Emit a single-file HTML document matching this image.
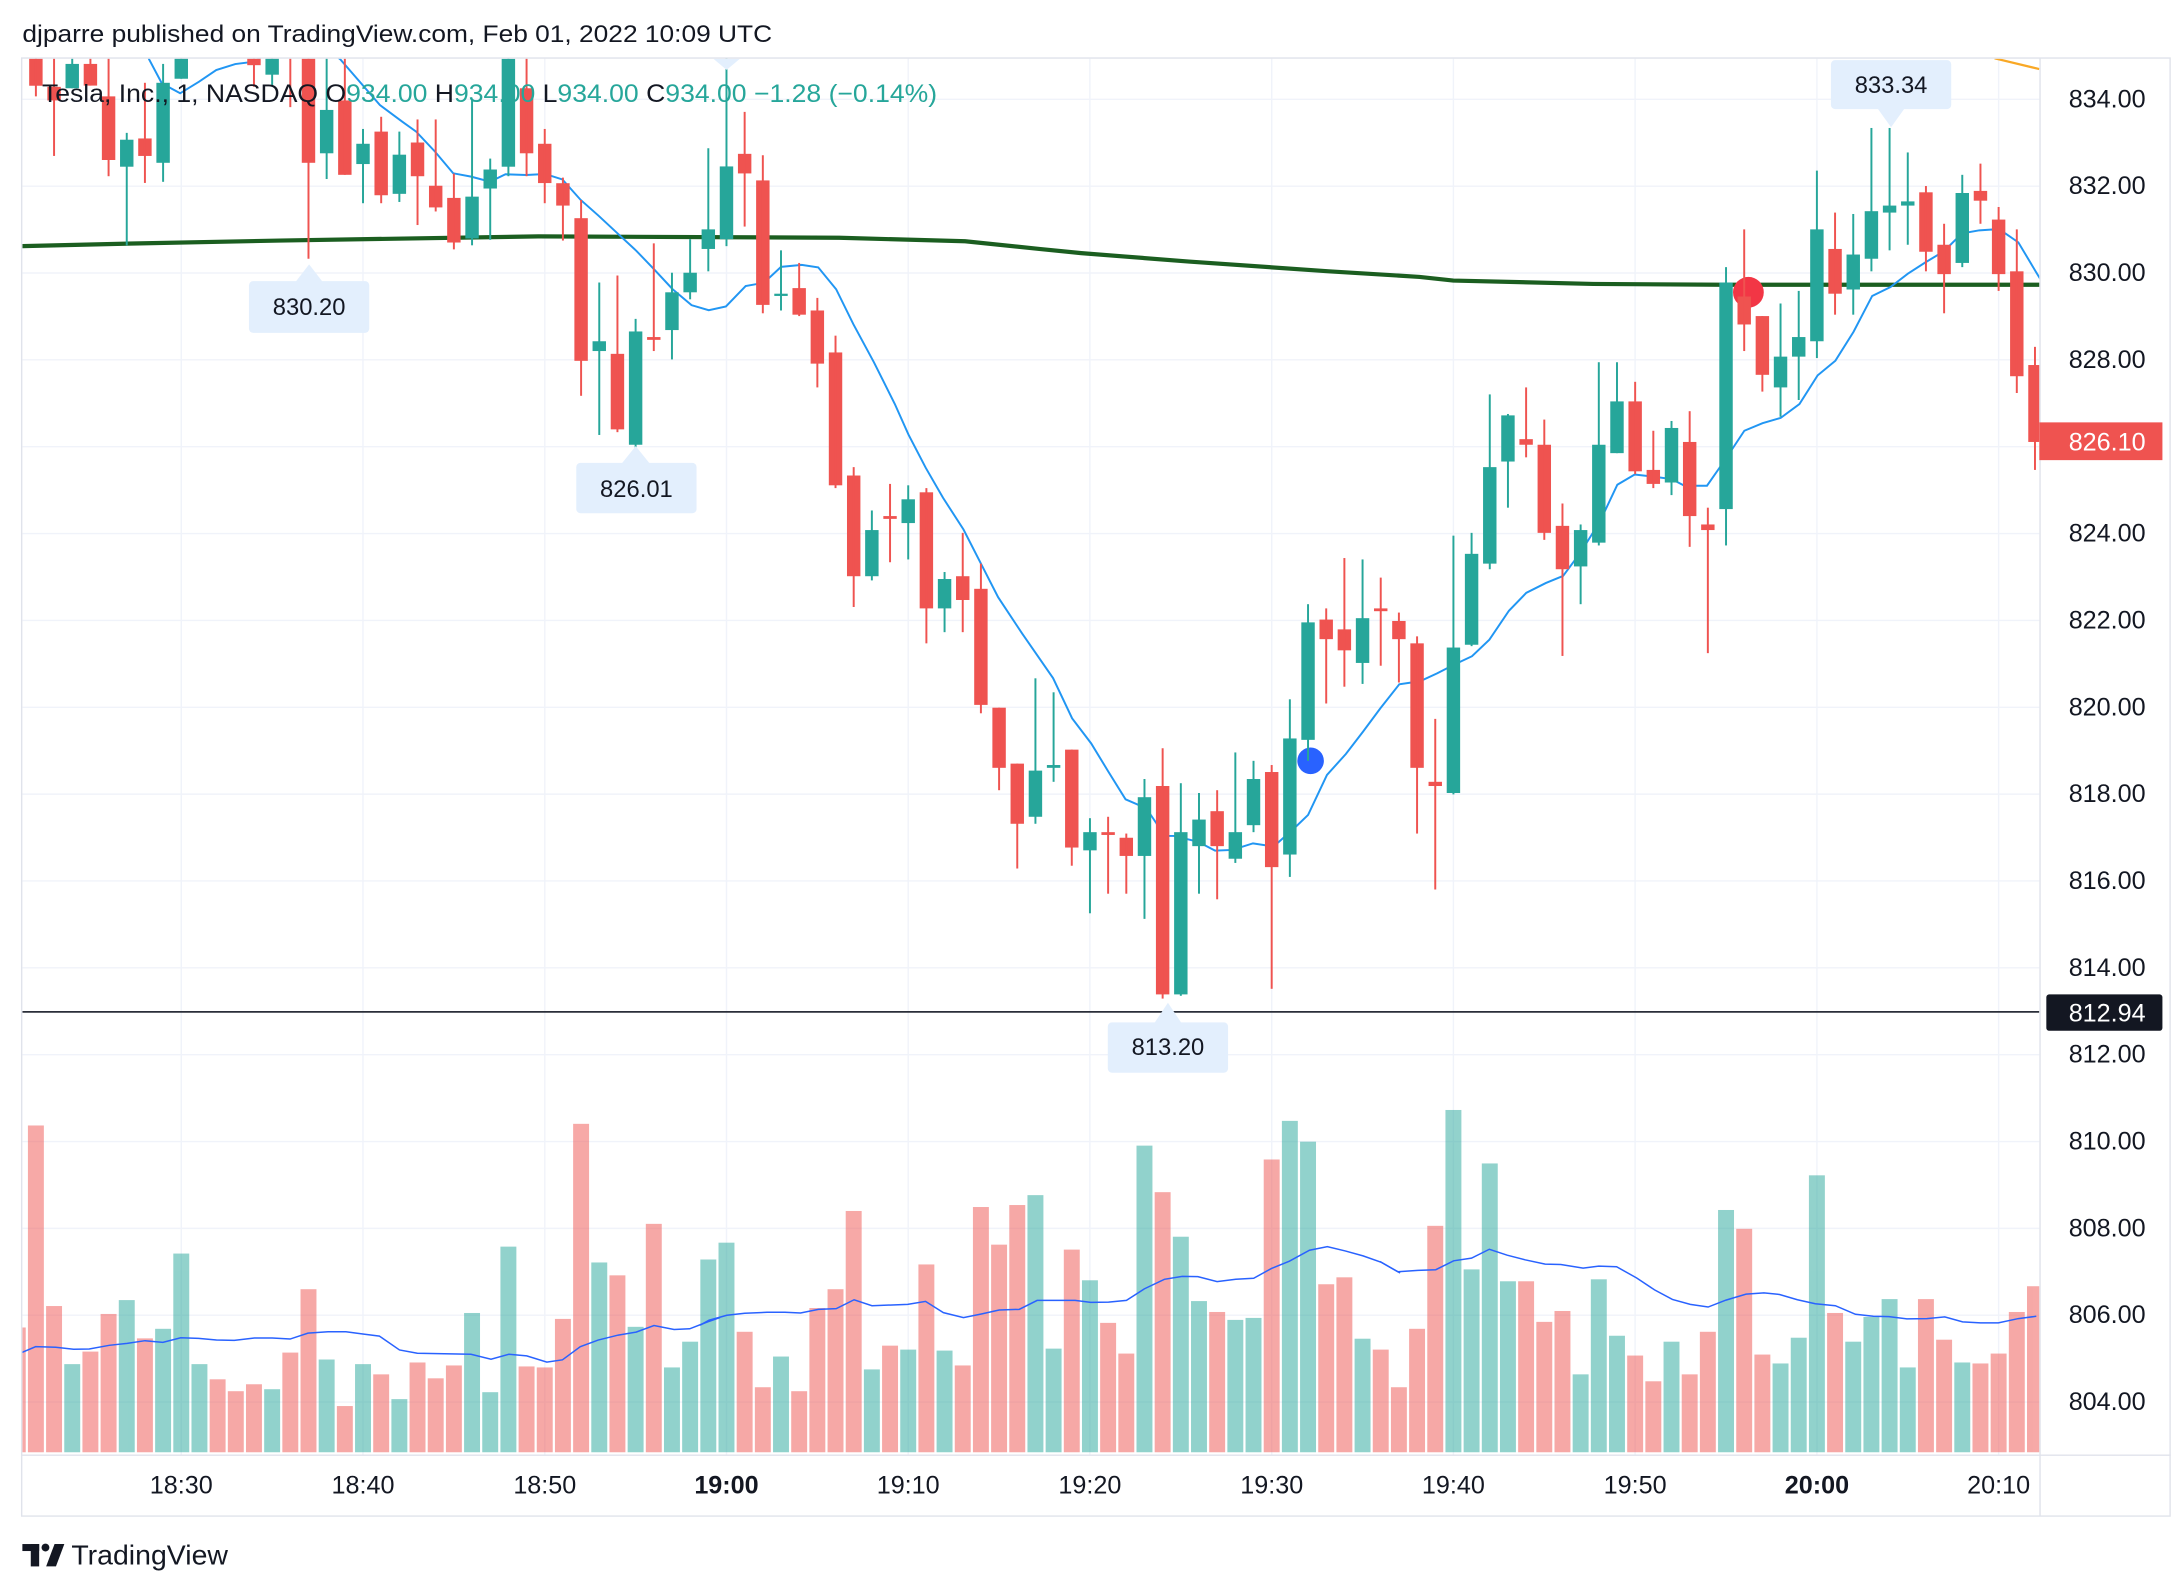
<!DOCTYPE html>
<html><head><meta charset="utf-8"><style>html,body{margin:0;padding:0;background:#fff}svg{display:block}text{font-family:"Liberation Sans",sans-serif}</style></head><body>
<svg width="2182" height="1586" viewBox="0 0 1560 1134" preserveAspectRatio="none" xmlns="http://www.w3.org/2000/svg">
<defs><clipPath id="pc"><rect x="16" y="42" width="1442" height="998"/></clipPath></defs>
<rect width="1560" height="1134" fill="#fff"/>
<text x="16" y="30" font-size="17.5" fill="#131722" textLength="536" lengthAdjust="spacingAndGlyphs">djparre published on TradingView.com, Feb 01, 2022 10:09 UTC</text>
<g stroke="#f0f3fa" stroke-width="1">
<line x1="16" x2="1458" y1="71" y2="71"/><line x1="16" x2="1458" y1="133.1" y2="133.1"/><line x1="16" x2="1458" y1="195.2" y2="195.2"/><line x1="16" x2="1458" y1="257.3" y2="257.3"/><line x1="16" x2="1458" y1="319.4" y2="319.4"/><line x1="16" x2="1458" y1="381.5" y2="381.5"/><line x1="16" x2="1458" y1="443.6" y2="443.6"/><line x1="16" x2="1458" y1="505.7" y2="505.7"/><line x1="16" x2="1458" y1="567.8" y2="567.8"/><line x1="16" x2="1458" y1="629.9" y2="629.9"/><line x1="16" x2="1458" y1="692" y2="692"/><line x1="16" x2="1458" y1="754.1" y2="754.1"/><line x1="16" x2="1458" y1="816.2" y2="816.2"/><line x1="16" x2="1458" y1="878.3" y2="878.3"/><line x1="16" x2="1458" y1="940.4" y2="940.4"/><line x1="16" x2="1458" y1="1002.5" y2="1002.5"/>
<line y1="42" y2="1040" x1="129.6" x2="129.6"/><line y1="42" y2="1040" x1="259.5" x2="259.5"/><line y1="42" y2="1040" x1="389.5" x2="389.5"/><line y1="42" y2="1040" x1="519.4" x2="519.4"/><line y1="42" y2="1040" x1="649.3" x2="649.3"/><line y1="42" y2="1040" x1="779.2" x2="779.2"/><line y1="42" y2="1040" x1="909.2" x2="909.2"/><line y1="42" y2="1040" x1="1039.1" x2="1039.1"/><line y1="42" y2="1040" x1="1169" x2="1169"/><line y1="42" y2="1040" x1="1299" x2="1299"/><line y1="42" y2="1040" x1="1428.9" x2="1428.9"/>
</g>
<g clip-path="url(#pc)">
<!-- volume -->
<g transform="translate(0,1002.5) scale(1,0.236) translate(0,-888)" opacity="0.5">
<g fill="#ef5350">
<rect x="7" y="662" width="11.4" height="378"/>
<rect x="19.96" y="50" width="11.4" height="990"/><rect x="32.95" y="597" width="11.4" height="443"/><rect x="58.94" y="735" width="11.4" height="305"/><rect x="71.93" y="621" width="11.4" height="419"/><rect x="97.91" y="695" width="11.4" height="345"/><rect x="149.89" y="819" width="11.4" height="221"/><rect x="162.88" y="855" width="11.4" height="185"/><rect x="175.87" y="834" width="11.4" height="206"/><rect x="201.86" y="738" width="11.4" height="302"/><rect x="214.85" y="546" width="11.4" height="494"/><rect x="240.84" y="900" width="11.4" height="140"/><rect x="266.82" y="804" width="11.4" height="236"/><rect x="292.81" y="768" width="11.4" height="272"/><rect x="305.8" y="816" width="11.4" height="224"/><rect x="318.8" y="777" width="11.4" height="263"/><rect x="370.77" y="780" width="11.4" height="260"/><rect x="383.76" y="783" width="11.4" height="257"/><rect x="396.75" y="636" width="11.4" height="404"/><rect x="409.75" y="45" width="11.4" height="995"/><rect x="435.73" y="504" width="11.4" height="536"/><rect x="461.72" y="348" width="11.4" height="692"/>
<rect x="526.68" y="675" width="11.4" height="365"/><rect x="539.68" y="843" width="11.4" height="197"/><rect x="565.66" y="855" width="11.4" height="185"/><rect x="578.66" y="603" width="11.4" height="437"/><rect x="591.65" y="546" width="11.4" height="494"/><rect x="604.64" y="309" width="11.4" height="731"/><rect x="630.63" y="717" width="11.4" height="323"/><rect x="656.61" y="471" width="11.4" height="569"/><rect x="682.6" y="777" width="11.4" height="263"/><rect x="695.59" y="297" width="11.4" height="743"/><rect x="708.59" y="411" width="11.4" height="629"/><rect x="721.58" y="291" width="11.4" height="749"/><rect x="760.56" y="426" width="11.4" height="614"/><rect x="786.54" y="648" width="11.4" height="392"/><rect x="799.54" y="741" width="11.4" height="299"/><rect x="825.52" y="252" width="11.4" height="788"/><rect x="864.5" y="615" width="11.4" height="425"/><rect x="903.48" y="153" width="11.4" height="887"/><rect x="942.46" y="531" width="11.4" height="509"/><rect x="955.45" y="510" width="11.4" height="530"/><rect x="981.44" y="729" width="11.4" height="311"/><rect x="994.43" y="843" width="11.4" height="197"/><rect x="1007.42" y="666" width="11.4" height="374"/><rect x="1020.42" y="354" width="11.4" height="686"/>
<rect x="1085.38" y="522" width="11.4" height="518"/><rect x="1098.38" y="645" width="11.4" height="395"/><rect x="1111.37" y="612" width="11.4" height="428"/><rect x="1163.34" y="747" width="11.4" height="293"/><rect x="1176.33" y="825" width="11.4" height="215"/><rect x="1202.32" y="804" width="11.4" height="236"/><rect x="1215.31" y="675" width="11.4" height="365"/><rect x="1241.3" y="363" width="11.4" height="677"/><rect x="1254.29" y="744" width="11.4" height="296"/><rect x="1306.26" y="618" width="11.4" height="422"/><rect x="1371.23" y="576" width="11.4" height="464"/><rect x="1384.22" y="699" width="11.4" height="341"/><rect x="1410.21" y="771" width="11.4" height="269"/><rect x="1423.2" y="741" width="11.4" height="299"/><rect x="1436.19" y="615" width="11.4" height="425"/><rect x="1449.19" y="537" width="11.4" height="503"/>
</g>
<g fill="#26a69a">
<rect x="45.94" y="773" width="11.4" height="267"/><rect x="84.92" y="579" width="11.4" height="461"/><rect x="110.91" y="666" width="11.4" height="374"/><rect x="123.9" y="438" width="11.4" height="602"/><rect x="136.89" y="773" width="11.4" height="267"/><rect x="188.87" y="849" width="11.4" height="191"/><rect x="227.84" y="759" width="11.4" height="281"/><rect x="253.83" y="773" width="11.4" height="267"/><rect x="279.82" y="879" width="11.4" height="161"/><rect x="331.79" y="618" width="11.4" height="422"/><rect x="344.78" y="858" width="11.4" height="182"/><rect x="357.77" y="417" width="11.4" height="623"/><rect x="422.74" y="465" width="11.4" height="575"/><rect x="448.73" y="660" width="11.4" height="380"/><rect x="474.71" y="783" width="11.4" height="257"/><rect x="487.7" y="705" width="11.4" height="335"/><rect x="500.7" y="456" width="11.4" height="584"/><rect x="513.69" y="405" width="11.4" height="635"/>
<rect x="552.67" y="750" width="11.4" height="290"/><rect x="617.63" y="789" width="11.4" height="251"/><rect x="643.62" y="729" width="11.4" height="311"/><rect x="669.61" y="732" width="11.4" height="308"/><rect x="734.57" y="261" width="11.4" height="779"/><rect x="747.56" y="726" width="11.4" height="314"/><rect x="773.55" y="519" width="11.4" height="521"/><rect x="812.53" y="111" width="11.4" height="929"/><rect x="838.52" y="387" width="11.4" height="653"/><rect x="851.51" y="582" width="11.4" height="458"/><rect x="877.49" y="639" width="11.4" height="401"/><rect x="890.49" y="633" width="11.4" height="407"/><rect x="916.47" y="36" width="11.4" height="1004"/><rect x="929.47" y="99" width="11.4" height="941"/><rect x="968.45" y="696" width="11.4" height="344"/>
<rect x="1033.41" y="3" width="11.4" height="1037"/><rect x="1046.4" y="486" width="11.4" height="554"/><rect x="1059.4" y="165" width="11.4" height="875"/><rect x="1072.39" y="522" width="11.4" height="518"/><rect x="1124.36" y="804" width="11.4" height="236"/><rect x="1137.35" y="516" width="11.4" height="524"/><rect x="1150.35" y="687" width="11.4" height="353"/><rect x="1189.33" y="705" width="11.4" height="335"/><rect x="1228.31" y="306" width="11.4" height="734"/><rect x="1267.28" y="771" width="11.4" height="269"/><rect x="1280.28" y="693" width="11.4" height="347"/><rect x="1293.27" y="201" width="11.4" height="839"/><rect x="1319.26" y="705" width="11.4" height="335"/><rect x="1332.25" y="630" width="11.4" height="410"/><rect x="1345.24" y="576" width="11.4" height="464"/><rect x="1358.24" y="783" width="11.4" height="257"/><rect x="1397.21" y="768" width="11.4" height="272"/>
</g>
</g>
<!-- volume MA -->
<g fill="none" stroke="#2962ff" stroke-width="1.5">
<polyline vector-effect="non-scaling-stroke" transform="translate(14.3,1002.5) scale(0.3192,0.236) translate(0,-888)" points="0,740 35,720 80,722 120,728 155,727 200,716 240,710 280,702 320,707 360,693 400,695 440,700 480,701 525,694 565,694 605,697 645,679 690,675 730,675 770,682 805,688 850,730 890,740 1010,743 1055,758 1095,743 1135,748 1180,767 1215,760 1255,720 1295,700 1340,685 1380,676 1420,656 1465,668 1500,666 1540,645 1568,632"/>
<polyline vector-effect="non-scaling-stroke" transform="translate(500.5,1002.5) scale(0.3192,0.236) translate(0,-888)" points="0,655 20,640 60,625 100,619 150,616 190,616 225,618 265,607 305,605 345,578 385,596 465,592 505,583 545,617 590,632 630,621 670,609 715,607 755,580 840,580 875,586 915,585 955,580 995,545 1040,516 1080,507 1115,508 1158,523 1200,516 1240,513 1280,483 1320,461 1365,428 1405,417 1445,430 1485,445 1525,464 1568,497"/>
<polyline vector-effect="non-scaling-stroke" transform="translate(986.6,1002.5) scale(0.3192,0.236) translate(0,-888)" points="0,462 40,493 85,489 125,487 165,460 205,452 245,425 285,443 325,457 370,470 405,471 455,482 490,476 530,478 575,512 615,548 655,577 695,592 735,600 775,579 820,561 860,557 895,562 935,578 975,590 1020,596 1065,622 1105,628 1140,629 1180,636 1225,635 1265,630 1305,645 1345,648 1385,648 1430,635 1470,628"/>
</g>
<!-- 812.94 line -->
<line x1="16" x2="1458" y1="723.5" y2="723.5" stroke="#2a2e39" stroke-width="1.2"/>
<!-- long MA -->
<polyline fill="none" stroke="#1b5e20" stroke-width="3" points="16,176 100,174 200,172 385,169 600,170 690,172.5 743,178 773,181 850,187 950,194 1015,198 1039,200.6 1139,203 1232,203.6 1460,203.6"/>
<polyline fill="none" stroke="#f9a825" stroke-width="1.6" points="1426,41.7 1458,49.4"/>
<!-- short MA -->
<polyline fill="none" stroke="#2196f3" stroke-width="1.4" points="104,36 106.6,42.4 115.7,59.6 128.8,66.7 142.3,58.4 154.6,50.1 168.2,45.8 181.7,44.1 195,36 235,36 243.3,42.4 271.6,75.1 287.6,87 297.5,94.1 311,108.4 324,123.9 336.8,126.3 350.4,129.9 361.4,124.6 376.2,125.1 389.7,124.4 402.1,128.3 415.1,142.9 428,154.3 442.7,168 455,179.4 467.3,192.2 480.9,206.8 494.4,218.2 506.7,221.8 519,219.1 533.1,204.5 546.1,202.2 558.4,190.8 573.2,189.4 585,191.2 597.8,206.8 610.1,231.8 624.9,259.2 639.7,288.8 649.5,310.7 661.8,334.4 674.2,355.9 688.9,378.7 701.2,402.8 713.6,427 730.8,453 752.9,484.9 766.5,513.6 780.1,531.5 792.4,551.7 804.7,571.5 819.5,577.9 826.8,588.7 831.8,597.7 839.1,597.7 856.4,601.8 868.7,608.2 881,607.7 895.8,603 910.5,605.3 925.3,592.2 935.2,582.7 948.7,554.1 962.2,539.1 974.5,523.1 986.9,506.4 1000.4,489.3 1015.2,487.1 1027.6,481.4 1040,475 1052.4,469.2 1064.8,457.4 1078.8,436.7 1091.2,423.9 1105.1,416.9 1117.5,411.8 1129.9,395.2 1143.9,372.8 1156.3,346.6 1168.7,339.3 1182.6,340.9 1195,342.5 1204.3,347.3 1220.4,347.3 1233.8,328.1 1247.1,308 1260.1,302.6 1273.1,298.8 1286.5,288.9 1299.5,268.4 1312.2,257.9 1325.2,237.2 1338.5,211.6 1351.6,205.2 1364,195.7 1376.4,187.7 1389.7,179.7 1402.7,166.9 1415.1,164.7 1424.4,164.1 1433.7,166.9 1443,173.3 1455.4,194.1 1462,205"/>
<!-- markers -->
<circle cx="937" cy="544" r="9.5" fill="#2962ff"/>
<circle cx="1250" cy="209" r="11" fill="#f23645"/>
<!-- red candles -->
<g fill="#ef5350">
<rect x="20.86" y="41.8" width="9.6" height="19.5"/><rect x="24.96" y="40" width="1.4" height="28.9"/>
<rect x="33.85" y="62.1" width="9.6" height="9.7"/><rect x="37.95" y="40" width="1.4" height="71.5"/>
<rect x="59.84" y="45.7" width="9.6" height="15.5"/><rect x="63.94" y="40" width="1.4" height="21.2"/>
<rect x="72.83" y="68.9" width="9.6" height="45.5"/><rect x="76.93" y="40" width="1.4" height="86"/>
<rect x="98.81" y="99" width="9.6" height="12.5"/><rect x="102.91" y="59.2" width="1.4" height="71.6"/>
<rect x="176.77" y="40" width="9.6" height="6.6"/><rect x="180.87" y="40" width="1.4" height="22"/>
<rect x="206.86" y="40" width="1.4" height="36.6"/>
<rect x="215.75" y="40" width="9.6" height="76.4"/><rect x="219.85" y="40" width="1.4" height="145"/>
<rect x="241.74" y="71.8" width="9.6" height="53.2"/><rect x="245.84" y="40" width="1.4" height="85"/>
<rect x="267.72" y="94.1" width="9.6" height="45.5"/><rect x="271.82" y="83.5" width="1.4" height="61.8"/>
<rect x="293.71" y="101.9" width="9.6" height="24.1"/><rect x="297.81" y="85.4" width="1.4" height="75.5"/>
<rect x="306.7" y="132.8" width="9.6" height="15.5"/><rect x="310.8" y="85.4" width="1.4" height="65.8"/>
<rect x="319.7" y="141.5" width="9.6" height="31.9"/><rect x="323.8" y="124.1" width="1.4" height="54.2"/>
<rect x="371.67" y="63.1" width="9.6" height="46.5"/><rect x="375.77" y="40" width="1.4" height="86"/>
<rect x="384.66" y="102.8" width="9.6" height="28.1"/><rect x="388.76" y="92.2" width="1.4" height="53.1"/>
<rect x="397.65" y="131" width="9.6" height="16"/><rect x="401.75" y="127" width="1.4" height="45"/>
<rect x="410.65" y="156" width="9.6" height="102"/><rect x="414.75" y="143" width="1.4" height="140"/>
<rect x="436.63" y="253" width="9.6" height="54"/><rect x="440.73" y="197" width="1.4" height="112"/>
<rect x="462.62" y="241" width="9.6" height="2"/><rect x="466.72" y="174" width="1.4" height="77"/>
<rect x="527.58" y="110" width="9.6" height="14"/><rect x="531.68" y="80" width="1.4" height="82"/>
<rect x="540.58" y="129" width="9.6" height="89"/><rect x="544.68" y="111" width="1.4" height="113"/>
<rect x="566.56" y="206" width="9.6" height="19"/><rect x="570.66" y="188" width="1.4" height="38"/>
<rect x="579.56" y="222" width="9.6" height="38"/><rect x="583.66" y="213" width="1.4" height="64"/>
<rect x="592.55" y="252" width="9.6" height="95"/><rect x="596.65" y="240" width="1.4" height="109"/>
<rect x="605.54" y="340" width="9.6" height="72"/><rect x="609.64" y="334" width="1.4" height="100"/>
<rect x="631.53" y="369" width="9.6" height="2"/><rect x="635.63" y="346" width="1.4" height="56"/>
<rect x="657.51" y="352" width="9.6" height="83"/><rect x="661.61" y="349" width="1.4" height="111"/>
<rect x="683.5" y="412" width="9.6" height="17"/><rect x="687.6" y="381" width="1.4" height="71"/>
<rect x="696.49" y="421" width="9.6" height="83"/><rect x="700.59" y="403" width="1.4" height="107"/>
<rect x="709.49" y="506" width="9.6" height="43"/><rect x="713.59" y="506" width="1.4" height="59"/>
<rect x="722.48" y="546" width="9.6" height="43"/><rect x="726.58" y="546" width="1.4" height="75"/>
<rect x="761.46" y="536" width="9.6" height="70"/><rect x="765.56" y="536" width="1.4" height="83"/>
<rect x="787.44" y="595" width="9.6" height="2"/><rect x="791.54" y="584" width="1.4" height="55"/>
<rect x="800.44" y="599" width="9.6" height="13"/><rect x="804.54" y="596" width="1.4" height="43"/>
<rect x="826.42" y="562" width="9.6" height="149"/><rect x="830.52" y="535" width="1.4" height="179"/>
<rect x="865.4" y="580" width="9.6" height="25"/><rect x="869.5" y="565" width="1.4" height="78"/>
<rect x="904.38" y="552" width="9.6" height="68"/><rect x="908.48" y="547" width="1.4" height="160"/>
<rect x="943.36" y="443" width="9.6" height="14"/><rect x="947.46" y="435" width="1.4" height="68"/>
<rect x="956.35" y="450" width="9.6" height="15"/><rect x="960.45" y="399" width="1.4" height="92"/>
<rect x="982.34" y="435" width="9.6" height="2"/><rect x="986.44" y="413" width="1.4" height="63"/>
<rect x="995.33" y="444" width="9.6" height="13"/><rect x="999.43" y="438" width="1.4" height="50"/>
<rect x="1008.32" y="460" width="9.6" height="89"/><rect x="1012.42" y="455" width="1.4" height="141"/>
<rect x="1021.32" y="559" width="9.6" height="3"/><rect x="1025.42" y="514" width="1.4" height="122"/>
<rect x="1086.28" y="314" width="9.6" height="4"/><rect x="1090.38" y="277" width="1.4" height="50"/>
<rect x="1099.28" y="318" width="9.6" height="63"/><rect x="1103.38" y="300" width="1.4" height="86"/>
<rect x="1112.27" y="376" width="9.6" height="31"/><rect x="1116.37" y="360" width="1.4" height="109"/>
<rect x="1164.24" y="287" width="9.6" height="50"/><rect x="1168.34" y="273" width="1.4" height="66"/>
<rect x="1177.23" y="336" width="9.6" height="10"/><rect x="1181.33" y="308" width="1.4" height="41"/>
<rect x="1203.22" y="316" width="9.6" height="53"/><rect x="1207.32" y="294" width="1.4" height="97"/>
<rect x="1216.21" y="375" width="9.6" height="4"/><rect x="1220.31" y="363" width="1.4" height="104"/>
<rect x="1242.2" y="212" width="9.6" height="20"/><rect x="1246.3" y="164" width="1.4" height="87"/>
<rect x="1255.19" y="226" width="9.6" height="42"/><rect x="1259.29" y="226" width="1.4" height="54"/>
<rect x="1307.16" y="178" width="9.6" height="32"/><rect x="1311.26" y="152" width="1.4" height="73"/>
<rect x="1372.13" y="137.5" width="9.6" height="42.5"/><rect x="1376.23" y="133" width="1.4" height="61"/>
<rect x="1385.12" y="175" width="9.6" height="21"/><rect x="1389.22" y="160" width="1.4" height="64"/>
<rect x="1411.11" y="136.5" width="9.6" height="7"/><rect x="1415.21" y="117" width="1.4" height="43"/>
<rect x="1424.1" y="157" width="9.6" height="39"/><rect x="1428.2" y="148" width="1.4" height="60"/>
<rect x="1437.09" y="194" width="9.6" height="75"/><rect x="1441.19" y="164" width="1.4" height="117"/>
<rect x="1450.09" y="261" width="9.6" height="55"/><rect x="1454.19" y="248" width="1.4" height="88"/>
</g>
<!-- green candles -->
<g fill="#26a69a">
<rect x="46.84" y="45.7" width="9.6" height="17.4"/><rect x="50.94" y="40" width="1.4" height="23.1"/>
<rect x="85.82" y="99.9" width="9.6" height="19.3"/><rect x="89.92" y="95" width="1.4" height="80.4"/>
<rect x="111.81" y="59.2" width="9.6" height="57.2"/><rect x="115.91" y="45.7" width="1.4" height="84.3"/>
<rect x="124.8" y="41.8" width="9.6" height="14.5"/><rect x="128.9" y="40" width="1.4" height="16.3"/>
<rect x="189.77" y="40" width="9.6" height="13.4"/><rect x="193.87" y="40" width="1.4" height="22"/>
<rect x="228.74" y="78.6" width="9.6" height="31"/><rect x="232.84" y="40" width="1.4" height="88"/>
<rect x="254.73" y="102.8" width="9.6" height="14.5"/><rect x="258.83" y="92.2" width="1.4" height="53.1"/>
<rect x="280.72" y="110.6" width="9.6" height="28"/><rect x="284.82" y="94.1" width="1.4" height="50.3"/>
<rect x="332.69" y="140.6" width="9.6" height="29.9"/><rect x="336.79" y="71.8" width="1.4" height="103.6"/>
<rect x="345.68" y="121.2" width="9.6" height="13.6"/><rect x="349.78" y="113.4" width="1.4" height="58.1"/>
<rect x="358.67" y="42" width="9.6" height="77.2"/><rect x="362.77" y="40" width="1.4" height="86"/>
<rect x="423.64" y="244" width="9.6" height="7"/><rect x="427.74" y="202" width="1.4" height="109"/>
<rect x="449.63" y="237" width="9.6" height="81"/><rect x="453.73" y="228" width="1.4" height="92"/>
<rect x="475.61" y="209" width="9.6" height="27"/><rect x="479.71" y="195" width="1.4" height="62"/>
<rect x="488.6" y="195" width="9.6" height="14"/><rect x="492.7" y="171" width="1.4" height="43"/>
<rect x="501.6" y="164" width="9.6" height="14"/><rect x="505.7" y="106" width="1.4" height="88"/>
<rect x="514.59" y="119" width="9.6" height="52"/><rect x="518.69" y="40" width="1.4" height="136"/>
<rect x="553.57" y="210" width="9.6" height="1.6"/><rect x="557.67" y="179" width="1.4" height="43"/>
<rect x="618.53" y="379" width="9.6" height="33"/><rect x="622.63" y="365" width="1.4" height="50"/>
<rect x="644.52" y="357" width="9.6" height="17"/><rect x="648.62" y="347" width="1.4" height="53"/>
<rect x="670.51" y="414" width="9.6" height="21"/><rect x="674.61" y="409" width="1.4" height="43"/>
<rect x="735.47" y="551" width="9.6" height="33"/><rect x="739.57" y="485" width="1.4" height="104"/>
<rect x="748.46" y="547" width="9.6" height="2"/><rect x="752.56" y="495" width="1.4" height="64"/>
<rect x="774.45" y="595" width="9.6" height="13"/><rect x="778.55" y="585" width="1.4" height="68"/>
<rect x="813.43" y="570" width="9.6" height="42"/><rect x="817.53" y="557" width="1.4" height="100"/>
<rect x="839.42" y="595" width="9.6" height="116"/><rect x="843.52" y="560" width="1.4" height="152"/>
<rect x="852.41" y="586" width="9.6" height="19"/><rect x="856.51" y="567" width="1.4" height="72"/>
<rect x="878.39" y="595" width="9.6" height="19"/><rect x="882.49" y="538" width="1.4" height="79"/>
<rect x="891.39" y="557" width="9.6" height="33"/><rect x="895.49" y="544" width="1.4" height="51"/>
<rect x="917.37" y="528" width="9.6" height="83"/><rect x="921.47" y="500" width="1.4" height="127"/>
<rect x="930.37" y="445" width="9.6" height="84"/><rect x="934.47" y="432" width="1.4" height="112"/>
<rect x="969.35" y="442" width="9.6" height="32"/><rect x="973.45" y="400" width="1.4" height="89"/>
<rect x="1034.31" y="463" width="9.6" height="104"/><rect x="1038.41" y="383" width="1.4" height="185"/>
<rect x="1047.3" y="396" width="9.6" height="65"/><rect x="1051.4" y="381" width="1.4" height="81"/>
<rect x="1060.3" y="334" width="9.6" height="69"/><rect x="1064.4" y="282" width="1.4" height="125"/>
<rect x="1073.29" y="297" width="9.6" height="33"/><rect x="1077.39" y="296" width="1.4" height="67"/>
<rect x="1125.26" y="379" width="9.6" height="26"/><rect x="1129.36" y="375" width="1.4" height="57"/>
<rect x="1138.25" y="318" width="9.6" height="70"/><rect x="1142.35" y="259" width="1.4" height="131"/>
<rect x="1151.25" y="287" width="9.6" height="37"/><rect x="1155.35" y="259" width="1.4" height="65"/>
<rect x="1190.23" y="306" width="9.6" height="39"/><rect x="1194.33" y="301" width="1.4" height="53"/>
<rect x="1229.21" y="202" width="9.6" height="162"/><rect x="1233.31" y="191" width="1.4" height="199"/>
<rect x="1268.18" y="255" width="9.6" height="22"/><rect x="1272.28" y="217" width="1.4" height="81"/>
<rect x="1281.18" y="241" width="9.6" height="14"/><rect x="1285.28" y="208" width="1.4" height="78"/>
<rect x="1294.17" y="164" width="9.6" height="80"/><rect x="1298.27" y="122" width="1.4" height="134"/>
<rect x="1320.16" y="182" width="9.6" height="25"/><rect x="1324.26" y="153" width="1.4" height="72"/>
<rect x="1333.15" y="151" width="9.6" height="34"/><rect x="1337.25" y="91.5" width="1.4" height="102.5"/>
<rect x="1346.14" y="147" width="9.6" height="5"/><rect x="1350.24" y="91.5" width="1.4" height="87.5"/>
<rect x="1359.14" y="144" width="9.6" height="3"/><rect x="1363.24" y="109" width="1.4" height="66"/>
<rect x="1398.11" y="138" width="9.6" height="50"/><rect x="1402.21" y="125" width="1.4" height="66"/>
</g>
<!-- callouts -->
<g fill="#e3effd">
<path d="M510,42 L529,42 L519.5,50 Z"/>
<rect x="178" y="201" width="86" height="37" rx="3"/><path d="M211,202 L221,189 L231,202 Z"/>
<rect x="412" y="331" width="86" height="36" rx="3"/><path d="M444,332 L454.5,319 L465,332 Z"/>
<rect x="792" y="731" width="86" height="36" rx="3"/><path d="M825,732 L835,717 L845,732 Z"/>
<rect x="1309" y="43" width="86" height="35" rx="3"/><path d="M1342,77 L1352,91 L1362,77 Z"/>
</g>
<g font-size="17" fill="#131722" text-anchor="middle" dominant-baseline="central">
<text x="221" y="220">830.20</text><text x="455" y="350">826.01</text><text x="835" y="749">813.20</text><text x="1352" y="61">833.34</text>
</g>
</g>
<!-- legend -->
<text x="30" y="73" font-size="18" fill="#131722" textLength="640" lengthAdjust="spacingAndGlyphs">Tesla, Inc., 1, NASDAQ  O<tspan fill="#26a69a">934.00</tspan>  H<tspan fill="#26a69a">934.00</tspan>  L<tspan fill="#26a69a">934.00</tspan>  C<tspan fill="#26a69a">934.00</tspan>  <tspan fill="#26a69a">−1.28 (−0.14%)</tspan></text>
<!-- frame -->
<g fill="none" stroke="#e0e3eb" stroke-width="1">
<rect x="15.5" y="41.5" width="1536" height="1042.5"/>
<line x1="1458.5" x2="1458.5" y1="41.5" y2="1084"/>
<line x1="15.5" x2="1552" y1="1040.5" y2="1040.5"/>
</g>
<!-- price axis -->
<g font-size="18" fill="#131722" dominant-baseline="central">
<text x="1479" y="71">834.00</text><text x="1479" y="133.1">832.00</text><text x="1479" y="195.2">830.00</text><text x="1479" y="257.3">828.00</text><text x="1479" y="381.5">824.00</text><text x="1479" y="443.6">822.00</text><text x="1479" y="505.7">820.00</text><text x="1479" y="567.8">818.00</text><text x="1479" y="629.9">816.00</text><text x="1479" y="692">814.00</text><text x="1479" y="754.1">812.00</text><text x="1479" y="816.2">810.00</text><text x="1479" y="878.3">808.00</text><text x="1479" y="940.4">806.00</text><text x="1479" y="1002.5">804.00</text>
</g>
<rect x="1458" y="302" width="88" height="27" fill="#ef5350"/>
<text x="1479" y="316.5" font-size="18" fill="#fff" dominant-baseline="central">826.10</text>
<rect x="1463" y="711" width="83" height="26" fill="#131722" rx="2"/>
<text x="1479" y="724.5" font-size="18" fill="#fff" dominant-baseline="central">812.94</text>
<!-- time axis -->
<g font-size="18" fill="#131722" text-anchor="middle" dominant-baseline="central">
<text x="129.6" y="1062">18:30</text><text x="259.5" y="1062">18:40</text><text x="389.5" y="1062">18:50</text><text x="519.4" y="1062" font-weight="bold">19:00</text><text x="649.3" y="1062">19:10</text><text x="779.2" y="1062">19:20</text><text x="909.2" y="1062">19:30</text><text x="1039.1" y="1062">19:40</text><text x="1169" y="1062">19:50</text><text x="1299" y="1062" font-weight="bold">20:00</text><text x="1428.9" y="1062">20:10</text>
</g>
<!-- logo -->
<g fill="#131722">
<rect x="16" y="1104" width="12" height="5"/><rect x="22" y="1104" width="6" height="16"/>
<circle cx="32.5" cy="1106.5" r="2.8"/>
<path d="M39,1104 L46,1104 L40,1120 L33,1120 Z"/>
</g>
<text x="51" y="1112" font-size="20" fill="#131722" dominant-baseline="central" textLength="112" lengthAdjust="spacingAndGlyphs">TradingView</text>
</svg>
</body></html>
